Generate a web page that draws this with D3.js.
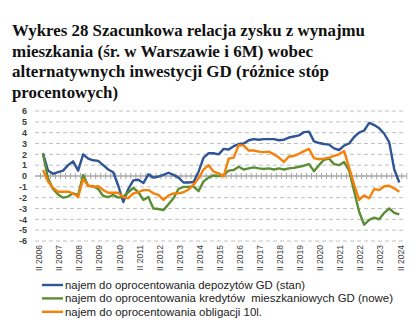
<!DOCTYPE html>
<html><head><meta charset="utf-8">
<script src="https://cdn.jsdelivr.net/npm/d3@7"></script>
<style>body{margin:0;background:#fff}svg{display:block}text{white-space:pre}</style>
</head><body><svg id="c" width="416" height="324"></svg>
<script>
const titleLines = ["Wykres 28 Szacunkowa relacja zysku z wynajmu","mieszkania (śr. w Warszawie i 6M) wobec","alternatywnych inwestycji GD (różnice stóp","procentowych)"];
const years = d3.range(2006, 2025);
const tickLabels = years.map(y => "II " + y);
const yTicks = d3.range(-6, 7);
const seriesNames = ["najem do oprocentowania depozytów GD (stan)","najem do oprocentowania kredytów  mieszkaniowych GD (nowe)","najem do oprocentowania obligacji 10l."];
const depozyty = [2.1,0.5,0.2,0.35,0.5,1.0,1.35,0.5,2.0,1.6,1.45,1.4,1.0,0.6,0.35,-0.9,-2.4,-1.2,-0.4,-0.35,-0.65,0.15,-0.15,-0.05,0.1,0.3,0.1,-0.15,-0.6,-0.6,-0.55,0.4,1.7,2.1,2.1,2.0,2.5,2.45,2.75,2.95,3.0,3.3,3.4,3.35,3.4,3.4,3.4,3.3,3.35,3.55,3.65,3.75,4.05,4.1,3.2,3.05,2.95,2.9,2.55,2.4,2.8,3.0,3.6,4.0,4.2,4.9,4.7,4.4,3.9,3.1,0.6,-0.6];
const kredyty = [2.0,-0.2,-1.2,-1.7,-2.0,-1.9,-1.6,-1.75,0.1,-0.9,-0.95,-1.2,-1.85,-1.95,-1.75,-2.0,-1.9,-1.5,-1.1,-1.5,-2.2,-1.95,-3.0,-3.05,-3.15,-2.6,-2.05,-1.2,-1.0,-1.0,-0.95,-1.4,-0.5,-0.15,0.05,0.0,0.1,0.5,0.55,0.85,0.6,0.7,0.8,0.7,0.65,0.7,0.6,0.7,0.6,0.7,0.75,0.85,0.95,1.1,0.45,1.0,1.5,1.6,1.1,1.0,1.3,0.5,-1.4,-3.3,-4.5,-4.05,-3.85,-4.0,-3.4,-3.0,-3.4,-3.55];
const obligacje = [0.55,-0.5,-1.1,-1.45,-1.45,-1.45,-1.6,-1.95,-0.3,-0.9,-1.0,-0.95,-1.3,-1.55,-1.55,-1.55,-1.95,-2.05,-1.6,-1.5,-1.3,-1.3,-1.6,-1.75,-2.2,-1.8,-1.6,-1.6,-1.5,-1.25,-0.8,-0.2,0.6,1.0,0.4,0.25,-0.05,1.6,1.7,2.85,2.8,2.35,2.35,2.25,2.2,2.25,2.0,1.7,1.3,1.8,1.85,2.05,2.3,2.5,1.65,1.55,1.6,1.7,1.85,2.0,2.3,0.8,-0.8,-2.2,-1.8,-2.05,-1.2,-1.3,-0.95,-0.9,-1.15,-1.45];
const colors = ["#2f5597","#5b8e34","#f7800a"];

const svg = d3.select("#c");
// title
const tt = svg.append("g").attr("font-family","'Liberation Serif','DejaVu Serif',serif").attr("font-weight","bold").attr("font-size",16.5).attr("fill","#111");
const tW = [353, 301, 317, 106];
titleLines.forEach((t,i)=>{
  tt.append("text").attr("x",12).attr("y",36+i*20.5).text(t).attr("textLength",tW[i]).attr("lengthAdjust","spacingAndGlyphs");
});

const x = d3.scaleLinear().domain([0,71]).range([43,399.3]);
const y = d3.scaleLinear().domain([-6,6]).range([241,111]);
const plotL = 35, plotR = 406;

// grid
svg.append("g").selectAll("line").data(yTicks.filter(d=>d!==0)).join("line")
  .attr("x1",plotL).attr("x2",plotR).attr("y1",d=>y(d)).attr("y2",d=>y(d))
  .attr("stroke","#c0c0c0").attr("stroke-width",1).attr("stroke-dasharray","4,3");
// y labels
svg.append("g").attr("font-family","'Liberation Sans',Arial,sans-serif").attr("font-size",9).attr("fill","#404040").attr("font-weight","bold")
  .selectAll("text").data(yTicks).join("text")
  .attr("x",27).attr("y",d=>y(d)+3.2).attr("text-anchor","end").text(d=>d);
// zero axis with ticks
svg.append("line").attr("x1",plotL).attr("x2",plotR).attr("y1",y(0)).attr("y2",y(0)).attr("stroke","#a6a6a6").attr("stroke-width",1.3);
svg.append("g").selectAll("line").data(d3.range(-1,73)).join("line")
  .attr("x1",d=>x(d)+2.5).attr("x2",d=>x(d)+2.5).attr("y1",y(0)-3).attr("y2",y(0)+3)
  .attr("stroke","#a6a6a6").attr("stroke-width",1);
// x labels
svg.append("g").attr("font-family","'Liberation Sans',Arial,sans-serif").attr("font-size",8.5).attr("fill","#404040")
  .selectAll("text").data(tickLabels).join("text")
  .attr("transform",(d,i)=>`translate(${x(i*4-0.75)+3},245) rotate(-90)`)
  .attr("text-anchor","end").text(d=>d);

// lines
const line = d3.line().x((d,i)=>x(i)).y(d=>y(d));
[depozyty,kredyty,obligacje].forEach((s,k)=>{
  svg.append("path").datum(s).attr("d",line).attr("fill","none").attr("stroke",colors[k]).attr("stroke-width",2.4).attr("stroke-linejoin","round");
});

// legend
const lg = svg.append("g").attr("font-family","'Liberation Sans',Arial,sans-serif").attr("font-size",11.5).attr("fill","#222");
const lW = [240, 328, 197];
seriesNames.forEach((n,i)=>{
  const yy = 285 + i*13.4;
  lg.append("line").attr("x1",42).attr("x2",63).attr("y1",yy).attr("y2",yy).attr("stroke",colors[i]).attr("stroke-width",2.4);
  lg.append("text").attr("x",65).attr("y",yy+4).attr("xml:space","preserve").text(n).attr("textLength",lW[i]).attr("lengthAdjust","spacingAndGlyphs");
});
</script></body></html>
